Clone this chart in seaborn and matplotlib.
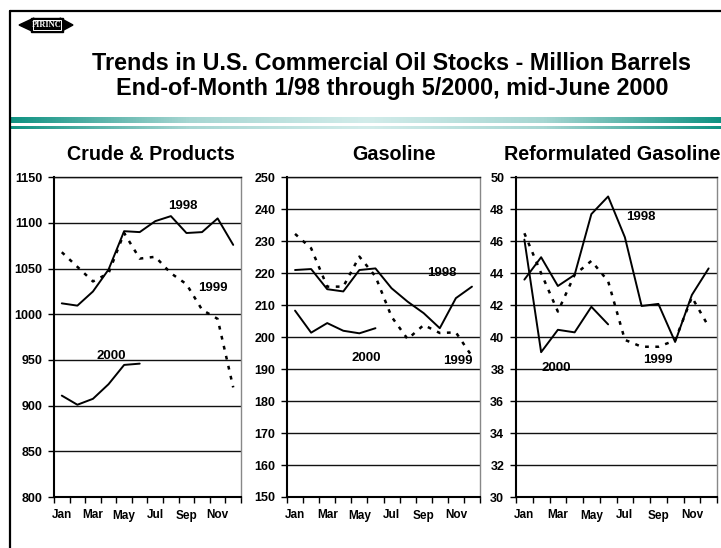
import numpy as np
import pandas as pd
import matplotlib
matplotlib.use("Agg")
import matplotlib.pyplot as plt
import seaborn as sns
from matplotlib.colors import LinearSegmentedColormap
from matplotlib.patches import Rectangle, Polygon

# ---------------- data ----------------
months = ["Jan", "Feb", "Mar", "Apr", "May", "Jun", "Jul", "Aug", "Sep", "Oct", "Nov", "Dec"]
tick_labels = ["Jan", "Mar", "May", "Jul", "Sep", "Nov"]

crude_1998 = [1012, 1009.5, 1025, 1049, 1091, 1090, 1102, 1107.5, 1089, 1090, 1105, 1076]
crude_1999 = [1068, 1052, 1036, 1045, 1089, 1061, 1063, 1045, 1033, 1005, 995, 920]
crude_2000 = [911, 901, 907.5, 923.5, 944.6, 946]

gas_1998 = [221, 221.3, 215, 214.3, 221, 221.5, 215.3, 211.1, 207.5, 202.8, 212.2, 215.8]
gas_1999 = [232.3, 227.8, 215.8, 215.8, 225.2, 219, 206.4, 199.4, 203.8, 201.3, 201.5, 194]
gas_2000 = [208.3, 201.4, 204.4, 202, 201.2, 202.8]

rfg_1998 = [43.6, 45.0, 43.2, 43.9, 47.7, 48.8, 46.25, 41.95, 42.08, 39.7, 42.64, 44.3]
rfg_1999 = [46.5, 44.0, 41.6, 43.9, 44.77, 43.5, 39.83, 39.4, 39.4, 39.8, 42.5, 40.66]
rfg_2000 = [46.1, 39.06, 40.46, 40.3, 41.9, 40.8]

panel_titles = ["Crude & Products", "Gasoline", "Reformulated Gasoline"]
y_limits = [(800, 1150, 50), (150, 250, 10), (30, 50, 2)]
label_pos = [
    {"1998": (7.75, 1119), "1999": (9.69, 1029), "2000": (3.15, 954.5)},
    {"1998": (9.13, 220.2), "1999": (10.1, 192.4), "2000": (4.45, 193.6)},
    {"1998": (6.96, 47.5), "1999": (7.98, 38.58), "2000": (1.89, 38.1)},
]
series = [
    (crude_1998, crude_1999, crude_2000),
    (gas_1998, gas_1999, gas_2000),
    (rfg_1998, rfg_1999, rfg_2000),
]

# ---------------- style ----------------
sns.set_style("white")
plt.rcParams["font.family"] = ["Liberation Sans", "DejaVu Sans"]
plt.rcParams["font.weight"] = "bold"
plt.rcParams["text.color"] = "black"
plt.rcParams["xtick.color"] = "black"
plt.rcParams["ytick.color"] = "black"
plt.rcParams["axes.labelcolor"] = "black"

W, H = 721, 548
fig = plt.figure(figsize=(W / 100, H / 100), dpi=100)
fig.patch.set_facecolor("white")


def fx(px):
    return px / W


def fy(py):
    return 1 - py / H


# frame (left + top)
fig.add_artist(plt.Line2D([fx(9.5), fx(9.5)], [fy(11), 0], color="black", lw=1.6))
fig.add_artist(plt.Line2D([fx(9.5), 1], [fy(11), fy(11)], color="black", lw=1.6))

# logo
fig.add_artist(Polygon([[fx(19), fy(25)], [fx(34), fy(18)], [fx(34), fy(32)]],
                       closed=True, color="black", transform=fig.transFigure))
fig.add_artist(Polygon([[fx(73), fy(25)], [fx(60), fy(18)], [fx(60), fy(32)]],
                       closed=True, color="black", transform=fig.transFigure))
fig.add_artist(Rectangle((fx(31), fy(32)), fx(32), 14 / H, color="black", transform=fig.transFigure))
fig.add_artist(Rectangle((fx(33), fy(30.3)), fx(28), 10.6 / H, fill=False, ec="white", lw=0.7,
                         transform=fig.transFigure))
fig.text(fx(47), fy(25.3), "PIRINC", color="white", fontsize=6, fontweight="bold",
         family=["Liberation Serif", "DejaVu Serif"], ha="center", va="center")

# titles
fig.text(fx(392), fy(64), "Trends in U.S. Commercial Oil Stocks - Million Barrels",
         fontsize=16.8, fontweight="bold", ha="center", va="center")
fig.text(fx(392), fy(88), "End-of-Month 1/98 through 5/2000, mid-June 2000",
         fontsize=16.8, fontweight="bold", ha="center", va="center")

# teal gradient bars
cmap = LinearSegmentedColormap.from_list("teal", ["#0f9282", "#a7d6d2", "#d2ecea", "#a7d6d2", "#0f9282"])
grad = np.linspace(0, 1, 512).reshape(1, -1)
for top, bot in [(116.7, 122.7), (125.7, 129.0)]:
    gax = fig.add_axes([fx(10.5), fy(bot), 1 - fx(10.5), (bot - top) / H])
    gax.imshow(grad, aspect="auto", cmap=cmap, extent=[0, 1, 0, 1])
    gax.set_axis_off()

# panels: (left, right) in px
panel_x = [(54, 241), (287, 480), (516, 717)]
title_x = [151, 394, 612]
top_px, bot_px = 177.3, 497

for k in range(3):
    l, r = panel_x[k]
    ax = fig.add_axes([fx(l), fy(bot_px), (r - l) / W, (bot_px - top_px) / H])
    s98, s99, s00 = series[k]
    df98 = pd.DataFrame({"m": np.arange(len(s98)), "v": s98})
    df99 = pd.DataFrame({"m": np.arange(len(s99)), "v": s99})
    df00 = pd.DataFrame({"m": np.arange(len(s00)), "v": s00})
    sns.lineplot(data=df98, x="m", y="v", ax=ax, color="black", lw=1.4)
    sns.lineplot(data=df99, x="m", y="v", ax=ax, color="black", lw=1.8,
                 linestyle=(0, (1.5, 2.6)))
    sns.lineplot(data=df00, x="m", y="v", ax=ax, color="black", lw=1.4)

    lo, hi, step = y_limits[k]
    ax.set_ylim(lo, hi)
    ax.set_xlim(-0.5, 11.5)
    ax.set_yticks(np.arange(lo, hi + step / 2, step))
    ax.set_yticklabels([str(int(v)) for v in np.arange(lo, hi + step / 2, step)],
                       fontsize=9, fontweight="bold")
    ax.set_xticks(np.arange(-0.5, 12, 1))
    ax.set_xticklabels([])
    ax.set_xticks(np.arange(0, 12, 2), minor=True)
    ax.set_xticklabels(tick_labels, minor=True, fontsize=8.5, fontweight="bold")
    ax.tick_params(axis="x", which="major", direction="out", length=4.5, width=1, color="black", bottom=True)
    ax.tick_params(axis="x", which="minor", length=0, pad=9, bottom=True)
    ax.tick_params(axis="y", direction="out", length=4.5, width=1, color="black", pad=4, left=True)
    ax.yaxis.grid(True, color="#111111", lw=1)
    ax.xaxis.grid(False)
    ax.set_axisbelow(True)
    ax.set_xlabel("")
    ax.set_ylabel("")
    for side in ["left", "bottom"]:
        ax.spines[side].set_color("black")
        ax.spines[side].set_linewidth(1.5)
    ax.spines["top"].set_color("#111111")
    ax.spines["top"].set_linewidth(1)
    ax.spines["right"].set_color("#888888")
    ax.spines["right"].set_linewidth(1)
    for lab, (xx, yy) in label_pos[k].items():
        ax.text(xx, yy, lab, fontsize=9.5, fontweight="bold", ha="center", va="center")

    fig.text(fx(title_x[k]), fy(155), panel_titles[k], fontsize=14.2, fontweight="bold",
             ha="center", va="center")

fig.savefig("out.png", dpi=100)
